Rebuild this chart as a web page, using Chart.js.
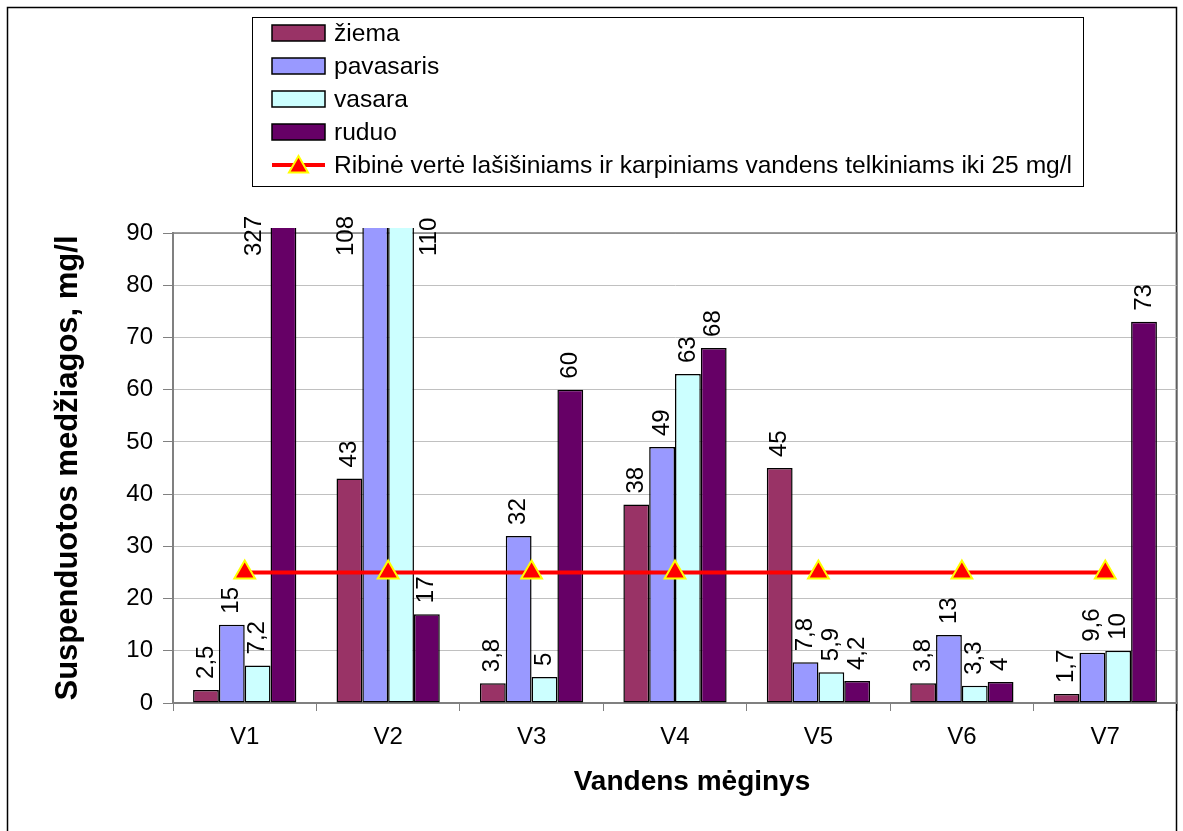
<!DOCTYPE html>
<html>
<head>
<meta charset="utf-8">
<script src="https://cdn.jsdelivr.net/npm/chart.js@4.4.0/dist/chart.umd.min.js"></script>
<style>
body { margin: 0; background: #fff; }
canvas { display: block; }
</style>
</head>
<body>
<canvas id="chart" width="1183" height="831"></canvas>
<script>
const categories = ["V1", "V2", "V3", "V4", "V5", "V6", "V7"];
const ziema = [2.5, 43, 3.8, 38, 45, 3.8, 1.7];
const pavasaris = [15, 108, 32, 49, 7.8, 13, 9.6];
const vasara = [7.2, 110, 5, 63, 5.9, 3.3, 10];
const ruduo = [327, 17, 60, 68, 4.2, 4, 73];
const ribine = [25, 25, 25, 25, 25, 25, 25];
const yMin = 0, yMax = 90, yStep = 10;

const FONT = "'Liberation Sans', Arial, sans-serif";

function barSet(label, data, color) {
    return { label, data, backgroundColor: color, borderColor: "#000", borderWidth: 1.5,
             borderSkipped: false, order: 1, clip: { left: 0, top: 5, right: 0, bottom: 0 } };
}

// white page, outer frame and grey plot border
const frame = {
    id: "frame",
    beforeDraw(chart) {
        const { ctx, width, height } = chart;
        ctx.save();
        ctx.fillStyle = "#fff";
        ctx.fillRect(0, 0, width, height);
        ctx.strokeStyle = "#000";
        ctx.lineWidth = 1.5;
        ctx.strokeRect(7.5, 7.5, 1169, height + 20);
        ctx.restore();
    },
    beforeDatasetsDraw(chart) {
        const { ctx, chartArea: a } = chart;
        ctx.save();
        ctx.strokeStyle = "#808080";
        ctx.lineWidth = 1.5;
        ctx.beginPath();
        ctx.moveTo(a.left, a.top);
        ctx.lineTo(a.right, a.top);
        ctx.lineTo(a.right, a.bottom);
        ctx.stroke();
        ctx.restore();
    }
};

// rotated value labels above bars
const valueLabels = {
    id: "valueLabels",
    afterDatasetsDraw(chart) {
        const { ctx, chartArea, scales: { y } } = chart;
        ctx.save();
        ctx.font = "24px " + FONT;
        ctx.fillStyle = "#000";
        ctx.textAlign = "left";
        ctx.textBaseline = "middle";
        chart.data.datasets.forEach((ds, di) => {
            if (ds.type === "line") return;
            chart.getDatasetMeta(di).data.forEach((bar, i) => {
                const v = ds.data[i];
                let x = bar.x, y0 = bar.y - 11;
                if (v > y.max) {
                    const prev = di > 0 ? chart.data.datasets[di - 1].data[i] : null;
                    const left = prev !== null && prev <= y.max;
                    x = bar.x + (left ? -1 : 1) * (bar.width + 3);
                    y0 = chartArea.top + 23;
                }
                ctx.save();
                ctx.translate(x, y0);
                ctx.rotate(-Math.PI / 2);
                ctx.fillText(String(v).replace(".", ","), 0, 0);
                ctx.restore();
            });
        });
        ctx.restore();
    }
};

// boxed one-column legend and x axis title
const boxLegend = {
    id: "boxLegend",
    afterDraw(chart) {
        const ctx = chart.ctx;
        const bx = 252, by = 17, bw = 831, bh = 169;
        ctx.save();
        ctx.fillStyle = "#fff";
        ctx.fillRect(bx, by, bw, bh);
        ctx.strokeStyle = "#000";
        ctx.lineWidth = 1;
        ctx.strokeRect(bx + 0.5, by + 0.5, bw, bh);
        ctx.font = "24.6px " + FONT;
        ctx.textAlign = "left";
        ctx.textBaseline = "middle";
        chart.data.datasets.forEach((ds, i) => {
            const cy = by + 16 + i * 33;
            if (ds.type === "line") {
                ctx.strokeStyle = ds.borderColor;
                ctx.lineWidth = ds.borderWidth;
                ctx.beginPath();
                ctx.moveTo(272, cy);
                ctx.lineTo(325, cy);
                ctx.stroke();
                ctx.fillStyle = ds.pointBackgroundColor;
                ctx.strokeStyle = ds.pointBorderColor;
                ctx.lineWidth = ds.pointBorderWidth;
                Chart.helpers.drawPoint(ctx, { pointStyle: "triangle", radius: 11, borderWidth: ds.pointBorderWidth, rotation: 0 }, 298.5, cy + 2);
            } else {
                ctx.fillStyle = ds.backgroundColor;
                ctx.fillRect(272, cy - 8, 53, 16);
                ctx.strokeStyle = "#000";
                ctx.lineWidth = 1.5;
                ctx.strokeRect(272, cy - 8, 53, 16);
            }
            ctx.fillStyle = "#000";
            ctx.fillText(ds.label, 334, cy + 1);
        });
        ctx.font = "bold 28px " + FONT;
        ctx.textAlign = "center";
        ctx.textBaseline = "alphabetic";
        ctx.fillText("Vandens mėginys", 692, 790);
        ctx.restore();
    }
};

new Chart(document.getElementById("chart"), {
    type: "bar",
    data: {
        labels: categories,
        datasets: [
            barSet("žiema", ziema, "#993366"),
            barSet("pavasaris", pavasaris, "#9999ff"),
            barSet("vasara", vasara, "#ccffff"),
            barSet("ruduo", ruduo, "#660066"),
            { type: "line", label: "Ribinė vertė lašišiniams ir karpiniams vandens telkiniams iki 25 mg/l",
              data: ribine, borderColor: "#ff0000", borderWidth: 4, pointStyle: "triangle", pointRadius: 12,
              pointBackgroundColor: "#ff0000", pointBorderColor: "#ffff00", pointBorderWidth: 2, order: 0 }
        ]
    },
    options: {
        responsive: false, animation: false, devicePixelRatio: 1,
        layout: { autoPadding: false, padding: { top: 233, right: 6, bottom: 0, left: 0 } },
        plugins: { legend: { display: false }, tooltip: { enabled: false } },
        datasets: { bar: { categoryPercentage: 0.72, barPercentage: 1 } },
        scales: {
            x: {
                grid: { offset: true, drawOnChartArea: false, tickLength: 8, color: "#808080" },
                border: { color: "#808080", width: 2 },
                ticks: { font: { size: 24, family: FONT }, color: "#000", padding: 12 },
                afterFit(s) { s.height = 128; }
            },
            y: {
                min: yMin, max: yMax,
                ticks: { stepSize: yStep, font: { size: 24, family: FONT }, color: "#000", padding: 10 },
                grid: { color: "#c0c0c0", tickLength: 10, tickColor: "#808080" },
                border: { color: "#808080", width: 2 },
                title: { display: true, text: "Suspenduotos medžiagos, mg/l", color: "#000",
                         font: { size: 31, weight: "bold", family: FONT }, padding: { top: 50 } },
                afterFit(s) { s.width = 173; }
            }
        }
    },
    plugins: [frame, valueLabels, boxLegend]
});
</script>
</body>
</html>
